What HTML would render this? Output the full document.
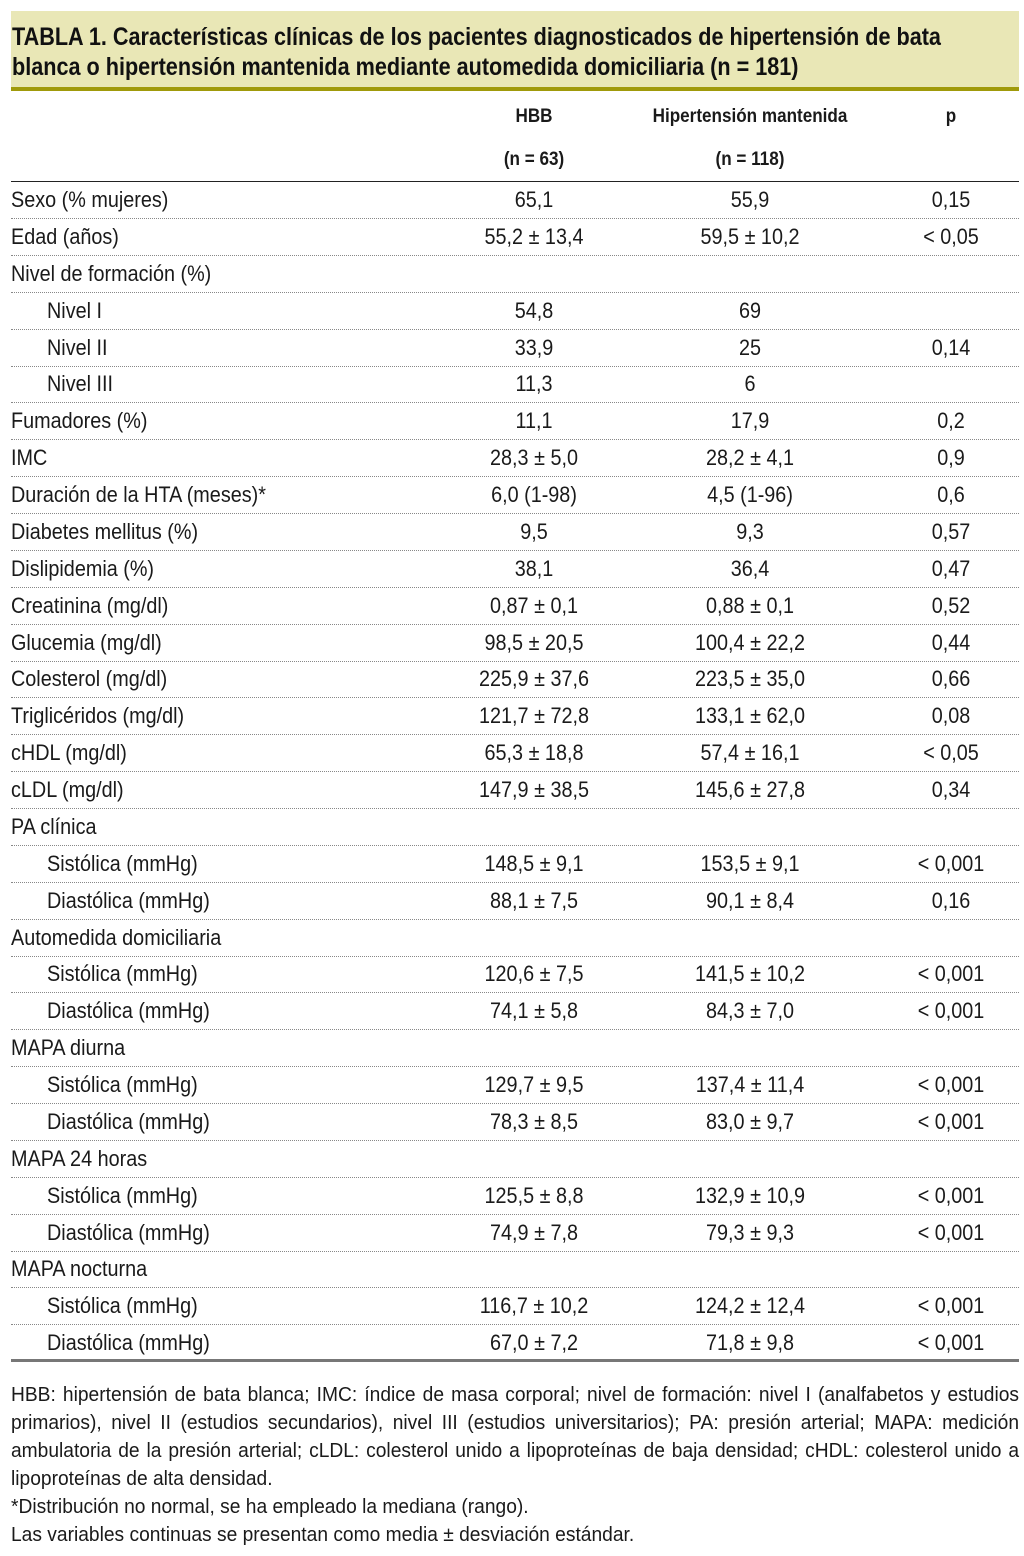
<!DOCTYPE html>
<html><head><meta charset="utf-8">
<style>
body{margin:0;width:1024px;height:1556px;background:#fff;position:relative;overflow:hidden;font-family:"Liberation Sans",sans-serif;color:#1a1a1a}
.title{position:absolute;left:11px;top:11px;width:1008px;height:80px;background:#e9e7b6;border-bottom:4px solid #a09a0a;box-sizing:border-box}
.title div{position:absolute;left:1px;font-weight:bold;font-size:25px;white-space:nowrap;color:#111;transform:scaleX(0.865);transform-origin:0 0}
.h{position:absolute;font-weight:bold;font-size:19px;transform:translateX(-50%) scaleX(0.9);white-space:nowrap}
.row{position:absolute;left:11px;width:1008px;height:37px;border-bottom:1px dotted #888;box-sizing:border-box}
.row span{position:absolute;top:5px;font-size:22px;white-space:nowrap}
.row .l{left:0;transform:scaleX(0.9);transform-origin:0 0}.row .l.i{left:36px}
.row .c{transform:translateX(-50%) scaleX(0.9)}
.foot{position:absolute;left:11px;width:1050px;font-size:20px;line-height:28px;white-space:nowrap;transform:scaleX(0.96);transform-origin:0 0}
.j{text-align:justify;text-align-last:justify;white-space:normal}
</style></head><body>
<div class="title">
<div style="top:12px">TABLA 1. Características clínicas de los pacientes diagnosticados de hipertensión de bata</div>
<div style="top:42px">blanca o hipertensión mantenida mediante automedida domiciliaria (n = 181)</div>
</div>
<div class="h" style="left:534px;top:106px">HBB</div>
<div class="h" style="left:750px;top:106px">Hipertensión mantenida</div>
<div class="h" style="left:951px;top:106px">p</div>
<div class="h" style="left:534px;top:149px">(n = 63)</div>
<div class="h" style="left:750px;top:149px">(n = 118)</div>
<div style="position:absolute;left:11px;top:181px;width:1008px;border-top:1px solid #222"></div>
<div id="rows"></div>
<div style="position:absolute;left:11px;top:1359px;width:1008px;height:3px;background:#777"></div>
<div class="foot j" style="top:1381px">HBB: hipertensión de bata blanca; IMC: índice de masa corporal; nivel de formación: nivel I (analfabetos y estudios</div>
<div class="foot j" style="top:1409px">primarios), nivel II (estudios secundarios), nivel III (estudios universitarios); PA: presión arterial; MAPA: medición</div>
<div class="foot j" style="top:1437px">ambulatoria de la presión arterial; cLDL: colesterol unido a lipoproteínas de baja densidad; cHDL: colesterol unido a</div>
<div class="foot" style="top:1465px">lipoproteínas de alta densidad.</div>
<div class="foot" style="top:1493px">*Distribución no normal, se ha empleado la mediana (rango).</div>
<div class="foot" style="top:1521px">Las variables continuas se presentan como media ± desviación estándar.</div>
<script>
const labels=["Sexo (% mujeres)","Edad (años)","Nivel de formación (%)","Nivel I","Nivel II","Nivel III","Fumadores (%)","IMC","Duración de la HTA (meses)*","Diabetes mellitus (%)","Dislipidemia (%)","Creatinina (mg/dl)","Glucemia (mg/dl)","Colesterol (mg/dl)","Triglicéridos (mg/dl)","cHDL (mg/dl)","cLDL (mg/dl)","PA clínica","Sistólica (mmHg)","Diastólica (mmHg)","Automedida domiciliaria","Sistólica (mmHg)","Diastólica (mmHg)","MAPA diurna","Sistólica (mmHg)","Diastólica (mmHg)","MAPA 24 horas","Sistólica (mmHg)","Diastólica (mmHg)","MAPA nocturna","Sistólica (mmHg)","Diastólica (mmHg)"];
const indent=[0,0,0,1,1,1,0,0,0,0,0,0,0,0,0,0,0,0,1,1,0,1,1,0,1,1,0,1,1,0,1,1];
const hbb=["65,1","55,2 ± 13,4","","54,8","33,9","11,3","11,1","28,3 ± 5,0","6,0 (1-98)","9,5","38,1","0,87 ± 0,1","98,5 ± 20,5","225,9 ± 37,6","121,7 ± 72,8","65,3 ± 18,8","147,9 ± 38,5","","148,5 ± 9,1","88,1 ± 7,5","","120,6 ± 7,5","74,1 ± 5,8","","129,7 ± 9,5","78,3 ± 8,5","","125,5 ± 8,8","74,9 ± 7,8","","116,7 ± 10,2","67,0 ± 7,2"];
const hm=["55,9","59,5 ± 10,2","","69","25","6","17,9","28,2 ± 4,1","4,5 (1-96)","9,3","36,4","0,88 ± 0,1","100,4 ± 22,2","223,5 ± 35,0","133,1 ± 62,0","57,4 ± 16,1","145,6 ± 27,8","","153,5 ± 9,1","90,1 ± 8,4","","141,5 ± 10,2","84,3 ± 7,0","","137,4 ± 11,4","83,0 ± 9,7","","132,9 ± 10,9","79,3 ± 9,3","","124,2 ± 12,4","71,8 ± 9,8"];
const pv=["0,15","< 0,05","","","0,14","","0,2","0,9","0,6","0,57","0,47","0,52","0,44","0,66","0,08","< 0,05","0,34","","< 0,001","0,16","","< 0,001","< 0,001","","< 0,001","< 0,001","","< 0,001","< 0,001","","< 0,001","< 0,001"];
const wrap=document.getElementById('rows');
const rowH=36.875;
labels.forEach((lab,i)=>{
  const r=document.createElement('div');
  r.className='row';
  
  
  r.style.top=(182+i*rowH)+'px';
  if(i===labels.length-1) r.style.borderBottom='none';
  const cells=[[lab,'l'+(indent[i]?' i':''),null],[hbb[i],'c',523],[hm[i],'c',739],[pv[i],'c',940]];
  cells.forEach(([t,cls,x],k)=>{
    const s=document.createElement('span');
    s.className=cls;
    
    
    if(x!==null) s.style.left=x+'px';
    s.textContent=t;
    r.appendChild(s);
  });
  wrap.appendChild(r);
});
</script>
</body></html>
